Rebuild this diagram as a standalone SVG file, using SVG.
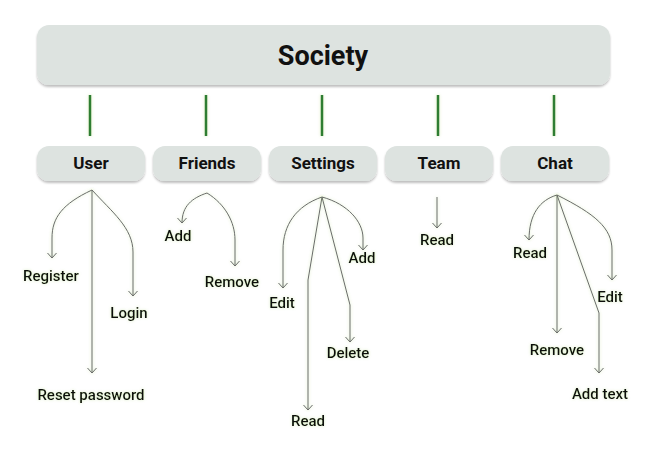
<svg xmlns="http://www.w3.org/2000/svg" width="649" height="463" viewBox="0 0 649 463">
<style>
.box{fill:#dde3e0;filter:url(#sh)}
.t1{font-family:Roboto,"Liberation Sans",sans-serif;font-weight:bold;font-size:27px;fill:#111;text-anchor:middle}
.t2{font-family:Roboto,"Liberation Sans",sans-serif;font-weight:bold;font-size:17px;fill:#111;text-anchor:middle}
.lb{font-family:Roboto,"Liberation Sans",sans-serif;font-weight:500;font-size:15px;fill:#111;text-anchor:middle;filter:url(#gl)}
.g{stroke:#2e7d32;stroke-width:2.5;fill:none;filter:url(#gl)}
.a{stroke:#6a6a6a;stroke-width:1;fill:none;marker-end:url(#ar);filter:url(#gl)}
</style>
<defs>
<filter id="sh" x="-5%" y="-20%" width="110%" height="150%">
<feDropShadow dx="0" dy="2" stdDeviation="1.2" flood-color="#000" flood-opacity="0.25"/>
</filter>
<filter id="gl" filterUnits="userSpaceOnUse" x="0" y="0" width="649" height="463">
<feDropShadow dx="0" dy="0" stdDeviation="1.5" flood-color="#8bc34a" flood-opacity="0.35"/>
</filter>
<marker id="ar" viewBox="-6 -6 8 12" refX="0" refY="0" markerWidth="8" markerHeight="12" markerUnits="userSpaceOnUse" orient="auto">
<path d="M-5,-4.5 L0,0 L-5,4.5" fill="none" stroke="#6a6a6a" stroke-width="1"/>
</marker>
</defs>
<rect width="649" height="463" fill="#fff"/>
<g id="society"><rect class="box" x="37" y="25" width="573" height="60" rx="12"/><text class="t1" x="323" y="65">Society</text></g>
<g id="user"><rect class="box" x="37" y="146" width="108" height="35" rx="12"/><text class="t2" x="91" y="169">User</text></g>
<g id="friends"><rect class="box" x="153" y="146" width="108" height="35" rx="12"/><text class="t2" x="207" y="169">Friends</text></g>
<g id="settings"><rect class="box" x="269" y="146" width="108" height="35" rx="12"/><text class="t2" x="323" y="169">Settings</text></g>
<g id="team"><rect class="box" x="385" y="146" width="108" height="35" rx="12"/><text class="t2" x="439" y="169">Team</text></g>
<g id="chat"><rect class="box" x="501" y="146" width="108" height="35" rx="12"/><text class="t2" x="555" y="169">Chat</text></g>
<g id="connectors">
<path class="g" d="M90,95V136M206,95V136M322,95V136M438,95V136M554,95V136"/>
<path class="a" d="M92,190 C62,204 52,218 52,238 L52,258"/>
<path class="a" d="M92,190 L92,373"/>
<path class="a" d="M92,190 C112,212 133,228 133,252 L133,296"/>
<path class="a" d="M207,193 C192,198 182,206 182,223"/>
<path class="a" d="M207,193 C225,204 235,222 235,240 L235,266"/>
<path class="a" d="M322,197 C296,206 283,225 283,250 L283,288"/>
<path class="a" d="M322,197 L308,280 L308,410"/>
<path class="a" d="M322,197 L350,305 L350,342"/>
<path class="a" d="M322,197 C348,204 363,222 363,238 L363,250"/>
<path class="a" d="M437,197 L437,228"/>
<path class="a" d="M557,195 C540,200 529,214 529,240"/>
<path class="a" d="M557,195 L557,333"/>
<path class="a" d="M557,195 L599,313 L599,373"/>
<path class="a" d="M557,195 C595,214 612,228 612,250 L612,280"/>
</g>
<g id="labels">
<text class="lb" x="51" y="281">Register</text>
<text class="lb" x="91" y="400">Reset password</text>
<text class="lb" x="129" y="318">Login</text>
<text class="lb" x="178" y="241">Add</text>
<text class="lb" x="232" y="287">Remove</text>
<text class="lb" x="282" y="308">Edit</text>
<text class="lb" x="308" y="426">Read</text>
<text class="lb" x="348" y="358">Delete</text>
<text class="lb" x="362" y="263">Add</text>
<text class="lb" x="437" y="245">Read</text>
<text class="lb" x="530" y="258">Read</text>
<text class="lb" x="557" y="355">Remove</text>
<text class="lb" x="600" y="399">Add text</text>
<text class="lb" x="610" y="302">Edit</text>
</g>
</svg>
